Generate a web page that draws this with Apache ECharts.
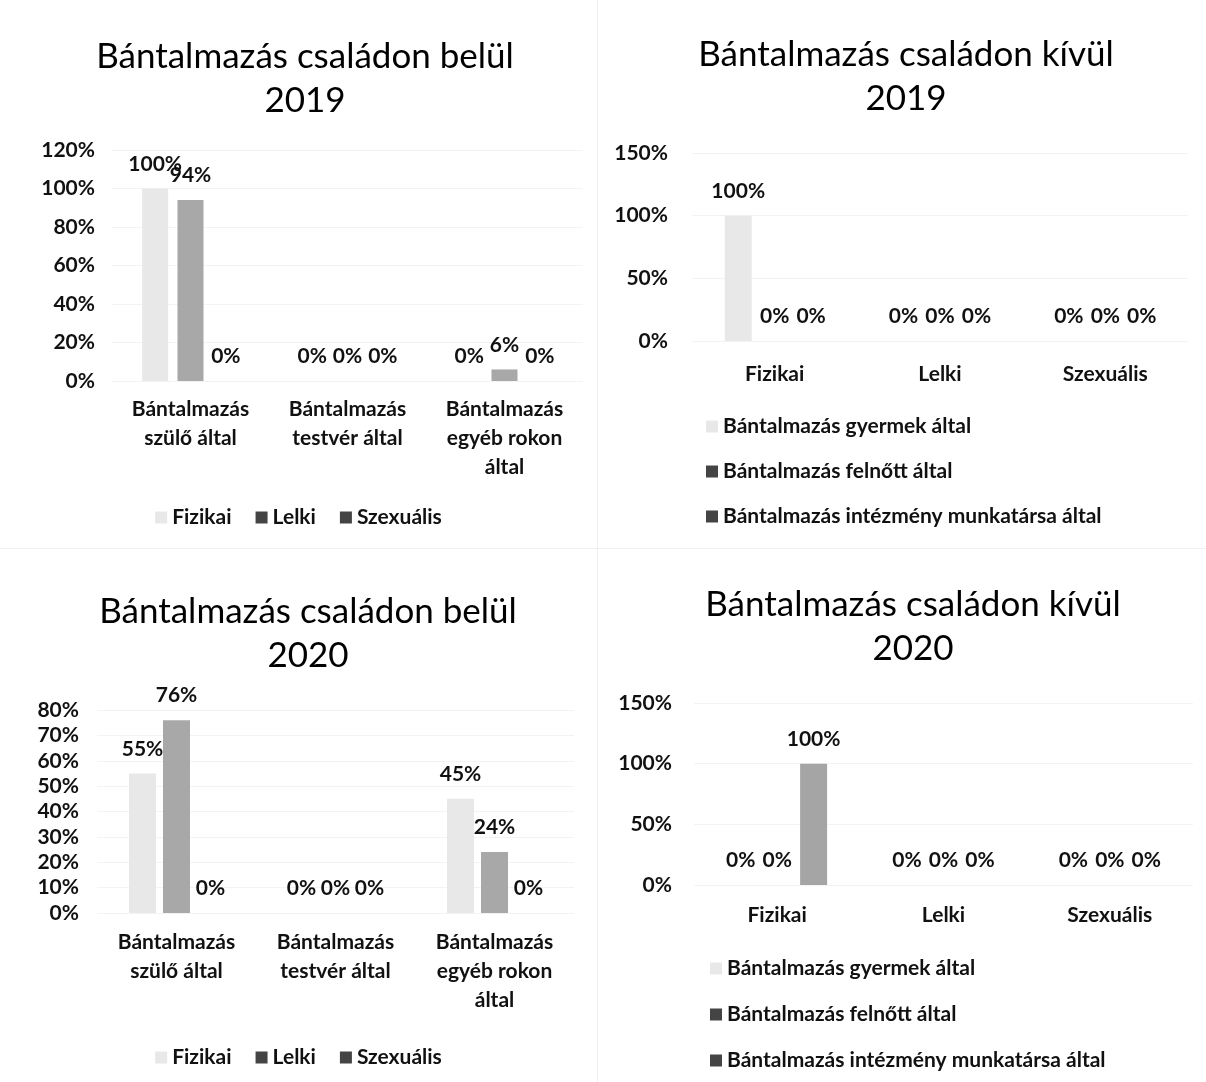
<!DOCTYPE html>
<html>
<head>
<meta charset="utf-8">
<script src="https://cdn.jsdelivr.net/npm/echarts@6/dist/echarts.min.js"></script>
<style>
  html, body { margin: 0; padding: 0; background: #fff; }
  #wrap { position: relative; width: 1206px; height: 1082px; }
  .panel { position: absolute; }
  .vline { position: absolute; left: 597px; top: 0; width: 1px; height: 1082px; background: #f0f0f0; }
  .hline { position: absolute; left: 0; top: 548px; width: 1206px; height: 1px; background: #f0f0f0; }
</style>
</head>
<body>
<div id="wrap">
  <div class="vline"></div>
  <div class="hline"></div>
  <div id="c1" class="panel" style="left:0;top:0;width:597px;height:548px"></div>
  <div id="c2" class="panel" style="left:598px;top:0;width:608px;height:548px"></div>
  <div id="c3" class="panel" style="left:0;top:549px;width:597px;height:533px"></div>
  <div id="c4" class="panel" style="left:598px;top:549px;width:608px;height:533px"></div>
</div>
<script>
// adatok
const belulKategoriak = ['Bántalmazás\nszülő által', 'Bántalmazás\ntestvér által', 'Bántalmazás\negyéb rokon\náltal'];
const belulSorok = ['Fizikai', 'Lelki', 'Szexuális'];
const belul2019Fizikai = [100, 0, 0];
const belul2019Lelki = [94, 0, 6];
const belul2019Szexualis = [0, 0, 0];
const belul2020Fizikai = [55, 0, 45];
const belul2020Lelki = [76, 0, 24];
const belul2020Szexualis = [0, 0, 0];

const kivulKategoriak = ['Fizikai', 'Lelki', 'Szexuális'];
const kivulSorok = ['Bántalmazás gyermek által', 'Bántalmazás felnőtt által', 'Bántalmazás intézmény munkatársa által'];
const kivul2019Gyermek = [100, 0, 0];
const kivul2019Felnott = [0, 0, 0];
const kivul2019Intezmeny = [0, 0, 0];
const kivul2020Gyermek = [0, 0, 0];
const kivul2020Felnott = [0, 0, 0];
const kivul2020Intezmeny = [100, 0, 0];

const FONT = 'Lato, "Open Sans", sans-serif';
const TXT = { fontFamily: FONT, fontSize: 21, fontWeight: 'bold', color: '#111' };
const barColors = ['#e8e8e8', '#a8a8a8', '#a5a5a5'];
const legendColors = ['#e8e8e8', '#444', '#444'];

const makeChart = (id, cfg) => {
  const chart = echarts.init(document.getElementById(id));
  const series = cfg.names.map((name, i) => ({
    name: name,
    type: 'bar',
    data: cfg.values[i],
    barWidth: cfg.barWidth,
    barGap: cfg.barGap,
    itemStyle: { color: barColors[i] },
    label: Object.assign({
      show: true,
      position: 'top',
      distance: 14,
      formatter: '{c}%'
    }, TXT)
  }));

  chart.setOption({
    animation: false,
    title: {
      text: cfg.title,
      left: cfg.titleX,
      top: cfg.titleTop,
      textAlign: 'center',
      textStyle: { fontFamily: FONT, fontSize: 35, fontWeight: 'normal', color: '#000', lineHeight: 44 }
    },
    legend: Object.assign({
      data: cfg.names.map((n, i) => ({ name: n, itemStyle: { color: legendColors[i] } })),
      icon: 'rect',
      itemWidth: 12,
      itemHeight: 12,
      itemGap: 24,
      textStyle: TXT
    }, cfg.legend),
    grid: cfg.grid,
    xAxis: {
      type: 'category',
      data: cfg.categories,
      axisLine: { show: false },
      axisTick: { show: false },
      axisLabel: Object.assign({ lineHeight: 29, margin: cfg.xMargin, interval: 0 }, TXT)
    },
    yAxis: {
      type: 'value',
      min: 0,
      max: cfg.max,
      interval: cfg.interval,
      axisLabel: Object.assign({ formatter: '{value}%', margin: cfg.yMargin }, TXT),
      splitLine: { lineStyle: { color: '#f3f3f3' } }
    },
    series: series
  });
  return chart;
};

makeChart('c1', {
  title: 'Bántalmazás családon belül\n2019',
  titleX: 300, titleTop: 30,
  categories: belulKategoriak,
  names: belulSorok,
  values: [belul2019Fizikai, belul2019Lelki, belul2019Szexualis],
  max: 120, interval: 20,
  grid: { left: 112, right: 14, top: 150, bottom: 167 },
  barWidth: 26, barGap: '36%',
  xMargin: 14, yMargin: 17,
  legend: { orient: 'horizontal', left: 'center', top: 502 }
});

makeChart('c2', {
  title: 'Bántalmazás családon kívül\n2019',
  titleX: 303, titleTop: 28,
  categories: kivulKategoriak,
  names: kivulSorok,
  values: [kivul2019Gyermek, kivul2019Felnott, kivul2019Intezmeny],
  max: 150, interval: 50,
  grid: { left: 94, right: 18, top: 153, bottom: 207 },
  barWidth: 27, barGap: '35%',
  xMargin: 19, yMargin: 24,
  legend: { orient: 'vertical', left: 103, top: 411, itemGap: 24 }
});

makeChart('c3', {
  title: 'Bántalmazás családon belül\n2020',
  titleX: 303, titleTop: 36,
  categories: belulKategoriak,
  names: belulSorok,
  values: [belul2020Fizikai, belul2020Lelki, belul2020Szexualis],
  max: 80, interval: 10,
  grid: { left: 97, right: 23, top: 161, bottom: 169 },
  barWidth: 27, barGap: '26%',
  xMargin: 15, yMargin: 18,
  legend: { orient: 'horizontal', left: 'center', top: 493 }
});

makeChart('c4', {
  title: 'Bántalmazás családon kívül\n2020',
  titleX: 310, titleTop: 29,
  categories: kivulKategoriak,
  names: kivulSorok,
  values: [kivul2020Gyermek, kivul2020Felnott, kivul2020Intezmeny],
  max: 150, interval: 50,
  grid: { left: 96, right: 13, top: 154, bottom: 197 },
  barWidth: 27, barGap: '35%',
  xMargin: 16, yMargin: 22,
  legend: { orient: 'vertical', left: 107, top: 404, itemGap: 25 }
});
</script>
</body>
</html>
